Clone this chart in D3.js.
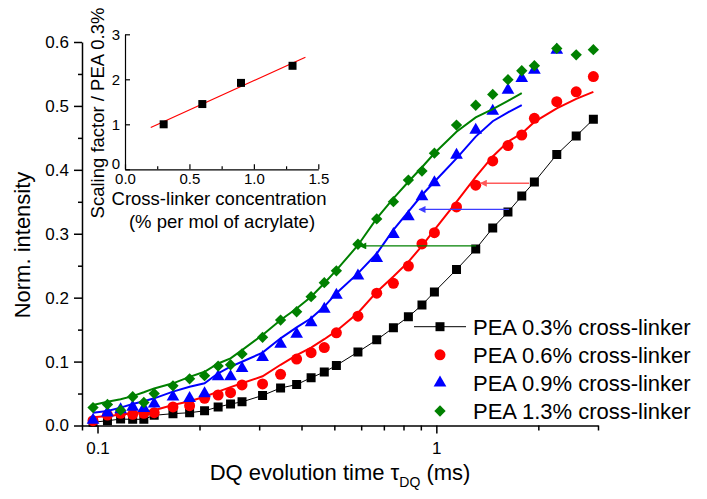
<!DOCTYPE html>
<html>
<head>
<meta charset="utf-8">
<script src="https://cdn.jsdelivr.net/npm/d3@7"></script>
<style>
  body { margin: 0; background: #fff; }
  svg { display: block; font-family: "Liberation Sans", Arial, sans-serif; }
</style>
</head>
<body>
<svg id="chart" width="707" height="499"></svg>
<script>
// DQ evolution times (ms), shared by all samples
const times = [0.097, 0.107, 0.117, 0.127, 0.137, 0.147, 0.167, 0.187, 0.207, 0.227, 0.247, 0.267,
  0.307, 0.347, 0.387, 0.427, 0.467, 0.507, 0.587, 0.667, 0.747, 0.827, 0.907, 0.987,
  1.147, 1.307, 1.467, 1.627, 1.787, 1.947, 2.267, 2.587, 2.907];

// measured normalised intensities
const pea03 = [0.005, 0.0075, 0.010, 0.0097, 0.0097, 0.016, 0.0185, 0.020, 0.023, 0.029, 0.0336, 0.037,
  0.047, 0.0587, 0.064, 0.0748, 0.0837, 0.094, 0.115, 0.134, 0.153, 0.170, 0.1885, 0.209,
  0.244, 0.276, 0.309, 0.334, 0.359, 0.381, 0.424, 0.453, 0.479];
const pea06 = [0.0075, 0.0164, 0.019, 0.0175, 0.019, 0.020, 0.029, 0.031, 0.0425, 0.0477, 0.0513, 0.0634,
  0.065, 0.080, 0.104, 0.114, 0.122, 0.145, 0.171, 0.207, 0.2225, 0.2495, 0.284, 0.3016,
  0.342, 0.376, 0.414, 0.438, 0.4545, 0.4806, 0.5066, 0.522, 0.546];
const pea09 = [0.0086, 0.020, 0.025, 0.029, 0.027, 0.034, 0.045, 0.0425, 0.050, 0.0764, 0.0764, 0.0895,
  0.1067, 0.1275, 0.143, 0.161, 0.182, 0.204, 0.234, 0.2616, 0.299, 0.3267, 0.358, 0.380,
  0.423, 0.4623, 0.492, 0.5248, 0.543, 0.556, 0.5875, 0.609, 0.625];
const pea13 = [0.028, 0.033, 0.024, 0.045, 0.036, 0.050, 0.062, 0.073, 0.078, 0.093, 0.095, 0.112,
  0.138, 0.165, 0.178, 0.2016, 0.2235, 0.242, 0.2836, 0.3232, 0.3502, 0.384, 0.398, 0.426,
  0.470, 0.501, 0.518, 0.541, 0.555, 0.563, 0.590, 0.580, 0.588];

// scaled master curves (lines), read on the same time grid
const fit06 = [0.0128, 0.015, 0.017, 0.019, 0.022, 0.024, 0.032, 0.038, 0.045, 0.053, 0.060, 0.066,
  0.077, 0.095, 0.110, 0.122, 0.135, 0.148, 0.176, 0.209, 0.233, 0.256, 0.281, 0.306,
  0.350, 0.389, 0.421, 0.444, 0.457, 0.475, 0.496, 0.511, 0.522];
const fit09 = [0.020, 0.0227, 0.028, 0.0336, 0.038, 0.0425, 0.053, 0.0607, 0.066, 0.0817, 0.092, 0.0998,
  0.114, 0.1364, 0.1536, 0.1677, 0.186, 0.207, 0.238, 0.269, 0.306, 0.3345, 0.3606, 0.3814,
  0.418, 0.452, 0.476, 0.490, 0.5014];
const fit13 = [0.032, 0.037, 0.041, 0.046, 0.052, 0.058, 0.066, 0.076, 0.084, 0.097, 0.105, 0.118,
  0.1416, 0.165, 0.183, 0.2015, 0.2225, 0.243, 0.282, 0.324, 0.3554, 0.3814, 0.404, 0.426,
  0.4597, 0.482, 0.495, 0.508, 0.520];

// horizontal shift arrows: [intensity, from time, to time]
const arrows = [
  { y: 0.379, from: 1.88, to: 1.35, color: '#ff5a5a' },
  { y: 0.338, from: 1.64, to: 0.89, color: '#3c3cff' },
  { y: 0.281, from: 1.31, to: 0.595, color: '#008000' },
];

// inset: scaling factor vs cross-linker concentration
const insetConc = [0.3, 0.6, 0.9, 1.3];
const insetScale = [1.0, 1.45, 1.92, 2.3];
const insetFitConc = [0.2, 1.4];
const insetFitScale = [0.93, 2.49];

const yTicks = [0, 0.1, 0.2, 0.3, 0.4, 0.5, 0.6];
const yMinor = [0.05, 0.15, 0.25, 0.35, 0.45, 0.55];
const xTicks = [0.1, 1];
const xMinor = [0.09, 0.2, 0.3, 0.4, 0.5, 0.6, 0.7, 0.8, 0.9, 2, 3];
const legendLabels = ['PEA 0.3% cross-linker', 'PEA 0.6% cross-linker', 'PEA 0.9% cross-linker', 'PEA 1.3% cross-linker'];

const svg = d3.select('#chart');
const L = 82, R = 598, TOP = 42, BOT = 425.5;

const x = d3.scaleLog().domain([0.09, 3]).range([L, R]);
const y = d3.scaleLinear().domain([0, 0.6]).range([BOT, TOP]);

svg.append('defs').append('clipPath').attr('id', 'plotclip')
  .append('rect').attr('x', L).attr('y', TOP).attr('width', R - L + 10).attr('height', BOT - TOP + 10);

// arrowheads
arrows.forEach((a, i) => {
  svg.select('defs').append('marker')
    .attr('id', 'ah' + i).attr('viewBox', '0 0 10 10').attr('refX', 9).attr('refY', 5)
    .attr('markerUnits', 'userSpaceOnUse').attr('markerWidth', 10).attr('markerHeight', 7)
    .attr('orient', 'auto')
    .append('path').attr('d', 'M0,0L10,5L0,10z').attr('fill', a.color);
});

// axes
const yAxis = svg.append('g').attr('transform', `translate(${L},0)`)
  .call(d3.axisLeft(y).tickValues(yTicks).tickFormat(d3.format('.1f')).tickSize(8).tickSizeOuter(0).tickPadding(5));
svg.append('g').attr('transform', `translate(${L},0)`)
  .call(d3.axisLeft(y).tickValues(yMinor).tickFormat('').tickSize(4).tickSizeOuter(0))
  .select('.domain').remove();
const xAxis = svg.append('g').attr('transform', `translate(0,${BOT})`)
  .call(d3.axisBottom(x).tickValues(xTicks).tickFormat(d3.format('')).tickSize(8).tickSizeOuter(0).tickPadding(8));
svg.append('g').attr('transform', `translate(0,${BOT})`)
  .call(d3.axisBottom(x).tickValues(xMinor).tickFormat('').tickSize(5).tickSizeOuter(0))
  .select('.domain').remove();
svg.selectAll('.domain, .tick line').attr('stroke', '#000').attr('stroke-width', 1.5);
yAxis.selectAll('text').attr('font-size', 17).attr('fill', '#000');
xAxis.selectAll('text').attr('font-size', 17).attr('fill', '#000');

svg.append('text').attr('transform', 'translate(30,245) rotate(-90)')
  .attr('text-anchor', 'middle').attr('font-size', 22).text('Norm. intensity');

const xt = svg.append('text').attr('x', 340).attr('y', 480).attr('text-anchor', 'middle').attr('font-size', 22);
xt.append('tspan').text('DQ evolution time \u03c4');
xt.append('tspan').attr('font-size', 14).attr('dy', 7).text('DQ');
xt.append('tspan').attr('dy', -7).text(' (ms)');

// data
const plot = svg.append('g').attr('clip-path', 'url(#plotclip)');
const sym = (type, size) => d3.symbol().type(type).size(size)();
const series = [
  { vals: pea03, fit: pea03, color: '#000', lw: 1, mark: sym(d3.symbolSquare, 81), rot: 0 },
  { vals: pea06, fit: fit06, color: '#ff0000', lw: 2, mark: sym(d3.symbolCircle, 95), rot: 0 },
  { vals: pea09, fit: fit09, color: '#0000ff', lw: 2, mark: sym(d3.symbolTriangle, 70), rot: 0 },
  { vals: pea13, fit: fit13, color: '#008000', lw: 2, mark: sym(d3.symbolSquare, 64), rot: 45 },
];
const line = d3.line().x(d => x(d[0])).y(d => y(d[1]));

series.forEach(s => {
  plot.append('g').selectAll('path').data(s.vals).join('path')
    .attr('d', s.mark)
    .attr('transform', (d, i) => `translate(${x(times[i])},${y(d)}) rotate(${s.rot})`)
    .attr('fill', s.color);
  plot.append('path').datum(s.fit.map((v, i) => [times[i], v]))
    .attr('d', line).attr('fill', 'none').attr('stroke', s.color).attr('stroke-width', s.lw);
});

arrows.forEach((a, i) => {
  plot.append('line')
    .attr('x1', x(a.from)).attr('x2', x(a.to)).attr('y1', y(a.y)).attr('y2', y(a.y))
    .attr('stroke', a.color).attr('stroke-width', 1.3).attr('marker-end', `url(#ah${i})`);
});

// legend
const leg = svg.append('g');
series.forEach((s, i) => {
  const ly = 326.7 + i * 28.1;
  if (i === 0) leg.append('line').attr('x1', 414).attr('x2', 466).attr('y1', ly).attr('y2', ly)
    .attr('stroke', '#000').attr('stroke-width', 1);
  leg.append('path').attr('d', s.mark).attr('fill', s.color)
    .attr('transform', `translate(440,${ly}) rotate(${s.rot})`);
  leg.append('text').attr('x', 473).attr('y', ly).attr('dy', '0.36em')
    .attr('font-size', 22).text(legendLabels[i]);
});

// inset
const ix = d3.scaleLinear().domain([0, 1.5]).range([125, 318.3]);
const iy = d3.scaleLinear().domain([0, 3]).range([169.3, 34.3]);
const inset = svg.append('g');
inset.append('g').attr('transform', 'translate(0,169.3)')
  .call(d3.axisBottom(ix).tickValues([0, 0.5, 1, 1.5]).tickFormat(d3.format('.1f')).tickSize(-5).tickSizeOuter(0).tickPadding(4));
inset.append('g').attr('transform', 'translate(0,169.3)')
  .call(d3.axisBottom(ix).tickValues([0.25, 0.75, 1.25]).tickFormat('').tickSize(-3).tickSizeOuter(0))
  .select('.domain').remove();
const iyAxis = inset.append('g').attr('transform', 'translate(125,0)')
  .call(d3.axisLeft(iy).tickValues([0, 1, 2, 3]).tickFormat(d3.format('d')).tickSize(-5).tickSizeOuter(0).tickPadding(5));
inset.selectAll('.domain, .tick line').attr('stroke', '#000').attr('stroke-width', 1.2);
inset.selectAll('text').attr('font-size', 15).attr('fill', '#000');
// lift the "0" label a little so it clears the x tick labels, as in the original
iyAxis.selectAll('.tick text').filter(d => d === 0).attr('dy', '-0.05em');

inset.append('path').datum(insetFitConc.map((c, i) => [c, insetFitScale[i]]))
  .attr('d', d3.line().x(d => ix(d[0])).y(d => iy(d[1])))
  .attr('stroke', '#ff0000').attr('stroke-width', 1.2).attr('fill', 'none');
inset.selectAll('.pt').data(insetConc).join('path')
  .attr('d', sym(d3.symbolSquare, 64))
  .attr('transform', (d, i) => `translate(${ix(d)},${iy(insetScale[i])})`)
  .attr('fill', '#000');

inset.append('text').attr('x', 219).attr('y', 205).attr('text-anchor', 'middle')
  .attr('font-size', 18.5).text('Cross-linker concentration');
inset.append('text').attr('x', 222).attr('y', 228).attr('text-anchor', 'middle')
  .attr('font-size', 18.5).text('(% per mol of acrylate)');
inset.append('text').attr('transform', 'translate(104,113) rotate(-90)')
  .attr('text-anchor', 'middle').attr('font-size', 18.5).text('Scaling factor / PEA 0.3%');
</script>
</body>
</html>
